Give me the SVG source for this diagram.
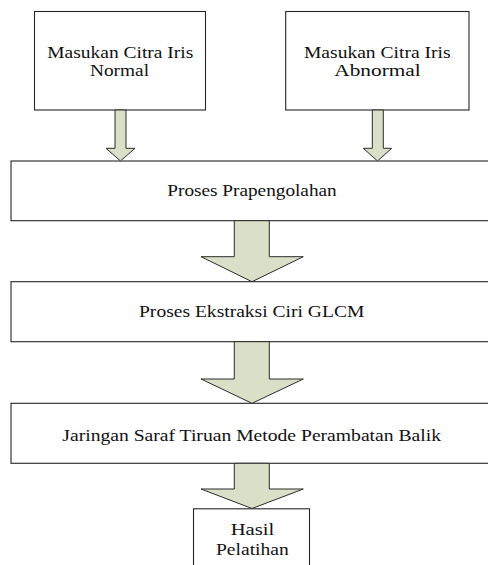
<svg xmlns="http://www.w3.org/2000/svg" width="488" height="565" viewBox="0 0 488 565">
<style>
.box{fill:#fff;stroke:#262626;stroke-width:1.1}
.arr{fill:#dadfc8;stroke:#2b2b2b;stroke-width:1}
</style>
<rect width="488" height="565" fill="#fff"/>
<g font-family="Liberation Serif, Times New Roman, serif" font-size="17" fill="#111">
<g id="n1"><rect class="box" x="34.5" y="11.5" width="171" height="98.5"/>
<text x="47.3" y="58" textLength="146" lengthAdjust="spacingAndGlyphs">Masukan Citra Iris</text>
<text x="90" y="76" textLength="59" lengthAdjust="spacingAndGlyphs">Normal</text></g>
<g id="n2"><rect class="box" x="285.7" y="11.5" width="183.3" height="98.5"/>
<text x="304" y="58" textLength="146.5" lengthAdjust="spacingAndGlyphs">Masukan Citra Iris</text>
<text x="334.3" y="76" textLength="86.4" lengthAdjust="spacingAndGlyphs">Abnormal</text></g>
<g id="n3"><rect class="box" x="11" y="161" width="480" height="59.7"/>
<text x="167.3" y="195.7" textLength="169.4" lengthAdjust="spacingAndGlyphs">Proses Prapengolahan</text></g>
<g id="n4"><rect class="box" x="11" y="281.7" width="480" height="60"/>
<text x="139" y="317.3" textLength="225.3" lengthAdjust="spacingAndGlyphs">Proses Ekstraksi Ciri GLCM</text></g>
<g id="n5"><rect class="box" x="11" y="403.3" width="480" height="60"/>
<text x="62.3" y="440.7" textLength="378.7" lengthAdjust="spacingAndGlyphs">Jaringan Saraf Tiruan Metode Perambatan Balik</text></g>
<g id="n6"><rect class="box" x="193.5" y="508.8" width="116" height="70"/>
<text x="230.7" y="535" textLength="43.6" lengthAdjust="spacingAndGlyphs">Hasil</text>
<text x="216" y="555" textLength="72.7" lengthAdjust="spacingAndGlyphs">Pelatihan</text></g>
</g>
<g id="connectors">
<polygon class="arr" points="115,110 126,110 126,148.3 135,148.3 120.5,161 106,148.3 115,148.3"/>
<polygon class="arr" points="372.3,110 383.3,110 383.3,148.3 391.7,148.3 377.5,161 363.3,148.3 372.3,148.3"/>
<polygon class="arr" points="234.3,220.7 269.3,220.7 269.3,256.7 303.3,256.7 252,281.7 201,256.7 234.3,256.7"/>
<polygon class="arr" points="234.3,341.7 269.3,341.7 269.3,379 303.3,379 252,403.3 201,379 234.3,379"/>
<polygon class="arr" points="234.3,463.3 269.3,463.3 269.3,489 303.3,489 252,508.5 201,489 234.3,489"/>
</g>
</svg>
